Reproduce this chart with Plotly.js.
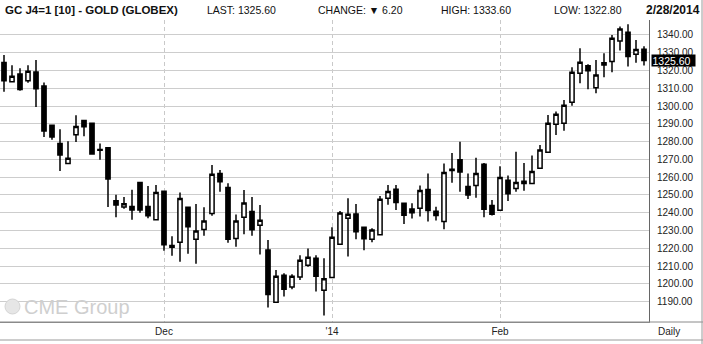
<!DOCTYPE html>
<html>
<head>
<meta charset="utf-8">
<script src="https://cdn.plot.ly/plotly-3.0.1.min.js"></script>
<style>html,body{margin:0;padding:0;background:#fff;}#chart{width:703px;height:344px;}</style>
</head>
<body>
<div id="chart"></div>
<script>
const dates = [
 '2013-11-01','2013-11-04','2013-11-05','2013-11-06','2013-11-07','2013-11-08',
 '2013-11-11','2013-11-12','2013-11-13','2013-11-14','2013-11-15',
 '2013-11-18','2013-11-19','2013-11-20','2013-11-21','2013-11-22',
 '2013-11-25','2013-11-26','2013-11-27','2013-11-29',
 '2013-12-02','2013-12-03','2013-12-04','2013-12-05','2013-12-06',
 '2013-12-09','2013-12-10','2013-12-11','2013-12-12','2013-12-13',
 '2013-12-16','2013-12-17','2013-12-18','2013-12-19','2013-12-20',
 '2013-12-23','2013-12-24','2013-12-26','2013-12-27','2013-12-30','2013-12-31',
 '2014-01-02','2014-01-03','2014-01-06','2014-01-07','2014-01-08','2014-01-09','2014-01-10',
 '2014-01-13','2014-01-14','2014-01-15','2014-01-16','2014-01-17',
 '2014-01-21','2014-01-22','2014-01-23','2014-01-24',
 '2014-01-27','2014-01-28','2014-01-29','2014-01-30','2014-01-31',
 '2014-02-03','2014-02-04','2014-02-05','2014-02-06','2014-02-07',
 '2014-02-10','2014-02-11','2014-02-12','2014-02-13','2014-02-14',
 '2014-02-18','2014-02-19','2014-02-20','2014-02-21',
 '2014-02-24','2014-02-25','2014-02-26','2014-02-27','2014-02-28'
];
const openP = [
 1324.5,1313.6,1318.0,1314.2,1319.1,1311.2,1289.2,1278.9,1267.6,1283.9,
 1291.8,1290.3,1275.6,1276.6,1246.7,1243.2,1243.5,1257.0,1243.5,1236.0,
 1252.0,1220.5,1223.3,1243.0,1225.0,1230.6,1239.6,1262.1,1254.2,1225.5,
 1237.4,1240.7,1232.9,1219.0,1189.6,1204.8,1198.2,1203.8,1210.4,1214.3,
 1196.3,1203.6,1222.2,1236.8,1239.3,1231.8,1225.0,1227.6,1248.1,1253.2,
 1245.3,1242.1,1242.5,1253.1,1240.8,1235.0,1264.4,1269.8,1254.7,1255.3,
 1267.2,1244.1,1241.3,1258.3,1253.6,1257.7,1256.4,1265.0,1274.0,1289.7,
 1290.3,1302.1,1318.4,1322.6,1310.3,1323.1,1325.0,1336.6,1341.5,1329.1,
 1332.0
];
const highP = [
 1328.7,1323.0,1321.2,1323.0,1325.9,1313.3,1289.5,1287.0,1280.2,1294.8,
 1292.0,1290.5,1278.9,1277.0,1250.1,1248.8,1252.9,1257.3,1255.0,1255.6,
 1252.2,1226.8,1251.4,1243.2,1244.9,1243.0,1266.8,1264.0,1256.5,1239.0,
 1252.7,1248.8,1244.3,1224.6,1207.8,1205.9,1205.3,1216.0,1219.8,1216.0,
 1214.3,1231.8,1241.0,1248.1,1244.9,1232.0,1231.2,1249.4,1255.6,1255.6,
 1245.6,1245.3,1255.3,1262.0,1243.4,1267.6,1273.6,1279.9,1262.0,1270.9,
 1268.0,1247.1,1266.1,1260.9,1274.3,1268.0,1272.1,1278.1,1295.0,1296.9,
 1303.4,1321.8,1332.5,1323.5,1325.9,1329.7,1340.0,1344.7,1346.0,1337.2,
 1333.6
];
const lowP = [
 1308.0,1313.3,1308.6,1313.1,1299.5,1282.6,1281.1,1263.5,1267.4,1279.8,
 1283.0,1272.8,1269.8,1243.2,1237.5,1242.2,1236.0,1240.0,1236.8,1235.8,
 1218.6,1215.8,1212.4,1216.9,1211.3,1227.0,1238.3,1251.8,1223.1,1220.8,
 1227.8,1227.0,1216.5,1186.7,1189.4,1192.8,1196.9,1202.1,1209.6,1195.6,
 1182.1,1203.4,1222.0,1215.3,1225.0,1218.8,1223.3,1227.1,1244.4,1241.5,
 1233.7,1236.7,1237.8,1235.0,1235.6,1230.7,1256.8,1251.8,1247.7,1248.4,
 1237.4,1238.4,1241.1,1246.6,1251.8,1252.3,1256.2,1264.8,1273.8,1283.7,
 1286.1,1300.2,1312.8,1309.4,1307.2,1316.2,1319.0,1331.2,1322.2,1324.4,
 1322.8
];
const closeP = [
 1314.2,1316.8,1309.3,1319.5,1309.7,1286.0,1282.6,1272.4,1270.6,1288.5,
 1288.3,1273.0,1275.1,1258.9,1244.3,1245.0,1241.5,1241.5,1238.3,1251.4,
 1222.0,1221.6,1248.0,1232.1,1229.7,1235.3,1261.6,1257.4,1225.0,1235.3,
 1245.4,1230.4,1235.7,1194.0,1204.2,1196.9,1204.2,1213.2,1214.9,1204.2,
 1202.9,1226.2,1239.8,1239.1,1229.3,1225.4,1230.3,1247.5,1251.9,1245.7,
 1238.6,1240.0,1252.5,1241.2,1238.4,1262.6,1263.8,1262.9,1249.9,1262.0,
 1241.9,1239.1,1259.8,1250.7,1257.0,1256.4,1263.1,1275.3,1290.3,1295.4,
 1300.4,1319.0,1324.6,1319.9,1317.5,1324.4,1338.1,1343.4,1327.8,1331.8,
 1325.6
];
const monthTickDates = ['2013-12-02','2014-01-02','2014-02-03'];
const monthTickLabels = ['Dec', "'14", 'Feb'];
const priceTicks = [1190,1200,1210,1220,1230,1240,1250,1260,1270,1280,1290,1300,1310,1320,1330,1340];
const symbolTitle = 'GC J4=1 [10] - GOLD (GLOBEX)';
const lastPrice = 1325.60;
const changeVal = 6.20;
const highVal = 1333.60;
const lowVal = 1322.80;
const asOfDate = '2/28/2014';

const FONT = 'Liberation Sans, Arial, sans-serif';
const W = 703, H = 344, L = 0, R = 54, T = 20, B = 22;
const pw = W - L - R, ph = H - T - B;
const px = x => (x - L) / pw;
const py = y => (H - B - y) / ph;

const trace = {
  type: 'candlestick',
  x: dates, open: openP, high: highP, low: lowP, close: closeP,
  increasing: {line: {color: '#000', width: 1.5}, fillcolor: '#fff'},
  decreasing: {line: {color: '#000', width: 1.5}, fillcolor: '#000'},
  whiskerwidth: 0,
  hoverinfo: 'none'
};

const hdr = (x, text, bold, size) => ({
  xref: 'paper', yref: 'paper', x: px(x), y: py(10), xanchor: 'left', yanchor: 'middle',
  text: bold ? '<b>' + text + '</b>' : text, showarrow: false,
  font: {family: FONT, size: size, color: '#111'}
});

const layout = {
  width: W, height: H,
  margin: {l: L, r: R, t: T, b: B, pad: 0},
  paper_bgcolor: '#fff', plot_bgcolor: '#fff',
  showlegend: false,
  boxgap: 0.25,
  xaxis: {
    type: 'category',
    range: [-0.5, 80.625],
    rangeslider: {visible: false},
    tickmode: 'array', tickvals: monthTickDates, ticktext: monthTickLabels,
    showgrid: true, gridcolor: '#c9c9c9', griddash: '4px,3px', gridwidth: 1,
    showline: true, linecolor: '#8a8a8a', linewidth: 1,
    ticks: '', tickfont: {family: FONT, size: 10, color: '#222'},
    zeroline: false, fixedrange: true
  },
  yaxis: {
    side: 'right',
    range: [1178.5, 1348.4],
    tickmode: 'array', tickvals: priceTicks,
    ticktext: priceTicks.map(v => v.toFixed(2)),
    showgrid: true, gridcolor: '#cdcdcd', gridwidth: 1,
    showline: true, linecolor: '#666', linewidth: 1,
    ticks: '', ticklabelstandoff: 5,
    tickfont: {family: FONT, size: 10, color: '#222'},
    zeroline: false, fixedrange: true
  },
  shapes: [
    {type: 'line', xref: 'paper', yref: 'paper', x0: 0, x1: px(703), y0: 0, y1: 0, line: {color: '#8a8a8a', width: 1}},
    {type: 'line', xref: 'paper', yref: 'paper', x0: 0, x1: px(703), y0: py(340), y1: py(340), line: {color: '#9a9a9a', width: 1}},
    {type: 'line', xref: 'paper', yref: 'paper', x0: px(702), x1: px(702), y0: py(344), y1: py(0), line: {color: '#9a9a9a', width: 1}},
    {type: 'circle', xref: 'paper', yref: 'paper', x0: px(5), x1: px(20), y0: py(314), y1: py(299),
     line: {color: '#d4d4d4', width: 1}, fillcolor: '#e6e6e6'}
  ],
  annotations: [
    hdr(3, symbolTitle, true, 11.5),
    hdr(205, 'LAST: ' + lastPrice.toFixed(2), false, 10.5),
    hdr(316, 'CHANGE: \u25BC ' + changeVal.toFixed(2), false, 10.5),
    hdr(439, 'HIGH: ' + highVal.toFixed(2), false, 10.5),
    hdr(552, 'LOW: ' + lowVal.toFixed(2), false, 10.5),
    hdr(644, asOfDate, true, 12),
    {xref: 'paper', yref: 'y', x: px(651), y: lastPrice, xanchor: 'left', yanchor: 'middle',
     text: lastPrice.toFixed(2), showarrow: false, bgcolor: '#000', align: 'left',
     width: 42, height: 10, borderpad: 0.5,
     font: {family: FONT, size: 10.5, color: '#fff'}},
    {xref: 'paper', yref: 'paper', x: px(656), y: py(331), xanchor: 'left', yanchor: 'middle',
     text: 'Daily', showarrow: false, font: {family: FONT, size: 10, color: '#222'}},
    {xref: 'paper', yref: 'paper', x: px(22), y: py(307), xanchor: 'left', yanchor: 'middle',
     text: 'CME Group', showarrow: false, font: {family: FONT, size: 20, color: '#cfcfcf'}}
  ]
};

Plotly.newPlot('chart', [trace], layout, {staticPlot: true, displayModeBar: false});
</script>
</body>
</html>
